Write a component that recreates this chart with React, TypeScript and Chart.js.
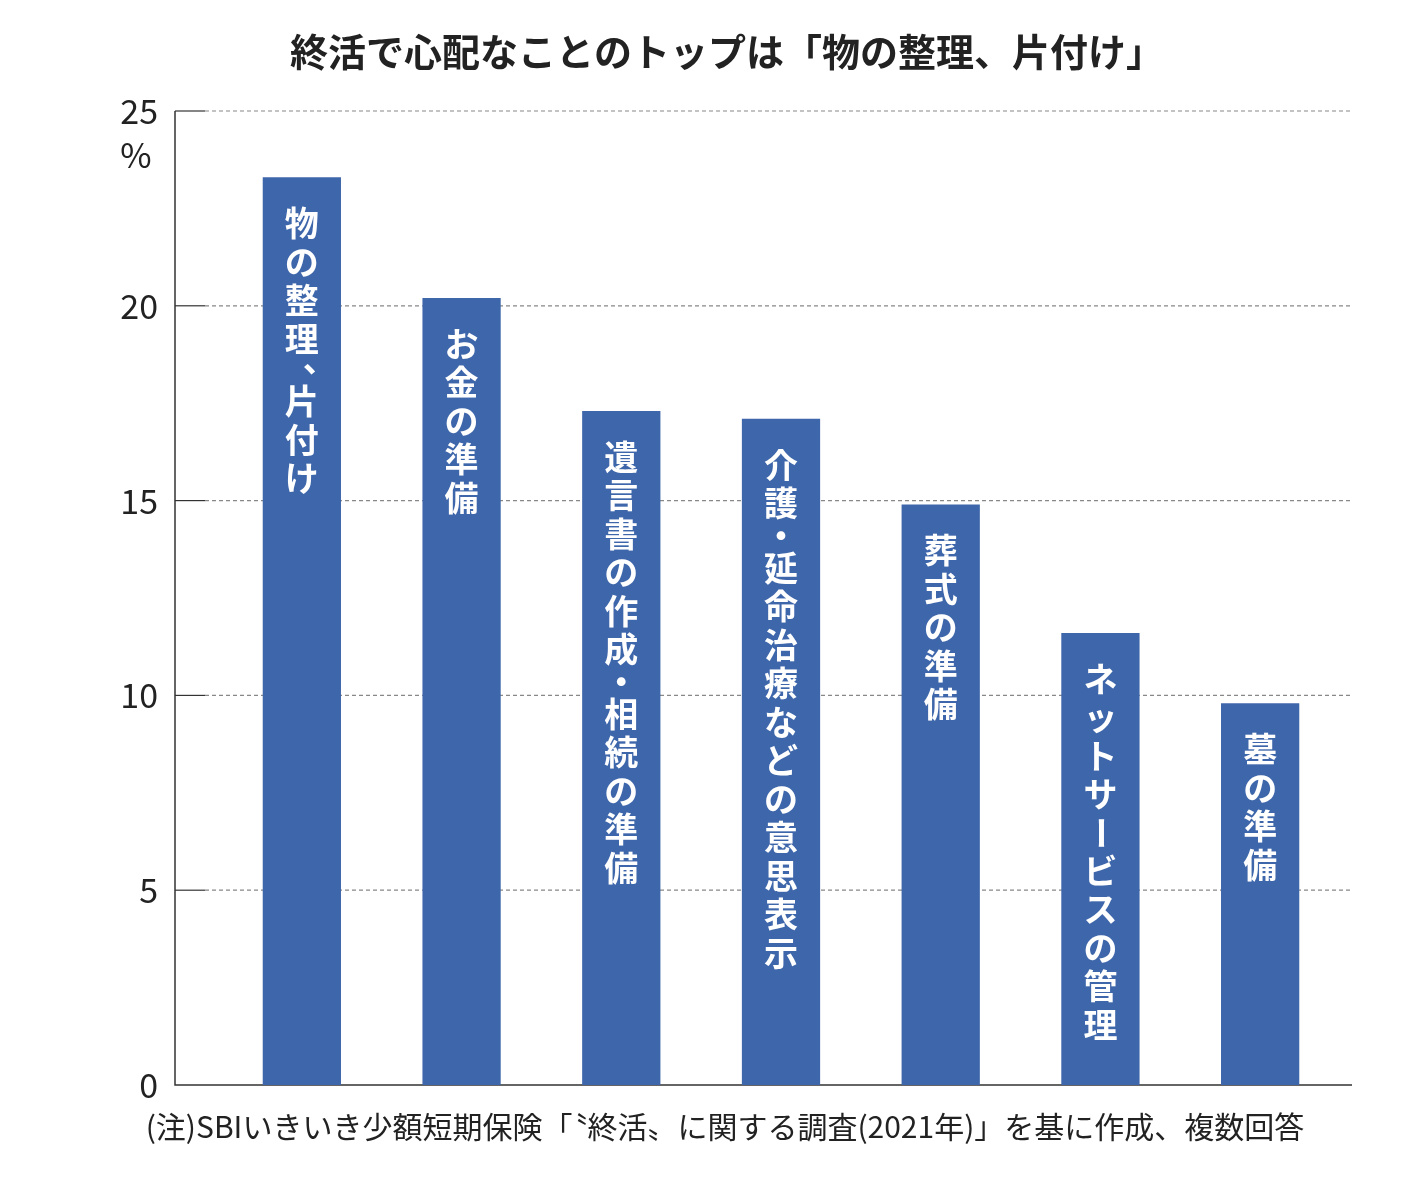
import React, { useEffect, useRef } from "react";
import { Chart, registerables } from "chart.js";
Chart.register(...registerables);

const categories = ["物の整理、片付け", "お金の準備", "遺言書の作成・相続の準備", "介護・延命治療などの意思表示", "葬式の準備", "ネットサービスの管理", "墓の準備"];
const values = [23.3, 20.2, 17.3, 17.1, 14.9, 11.6, 9.8];
const yTicks = [0, 5, 10, 15, 20, 25];
const title = "終活で心配なことのトップは「物の整理、片付け」";
const note = "(注)SBIいきいき少額短期保険「〝終活〟に関する調査(2021年)」を基に作成、複数回答";
const FONT = '"Noto Sans CJK JP", "Noto Sans", sans-serif';

const deco = {
  id: "deco",
  beforeDatasetsDraw(chart: any) {
    const c = chart.ctx;
    const y = chart.scales.y;
    c.save();
    c.fillStyle = "#222";
    c.font = `bold 38px ${FONT}`;
    c.textAlign = "center";
    c.textBaseline = "middle";
    c.fillText(title, 727, 52);
    c.font = `30px ${FONT}`;
    c.fillText(note, 725, 1127);
    for (const t of yTicks) {
      const py = y.getPixelForValue(t);
      if (t > 0) {
        c.strokeStyle = "#888";
        c.lineWidth = 1.2;
        c.setLineDash([4, 3]);
        c.beginPath(); c.moveTo(205, py); c.lineTo(1352, py); c.stroke();
        c.setLineDash([]);
        c.strokeStyle = "#333";
        c.beginPath(); c.moveTo(175, py); c.lineTo(205, py); c.stroke();
      }
      c.fillStyle = "#222";
      c.font = `34px ${FONT}`;
      c.textAlign = "right";
      c.fillText(String(t), 158, py);
    }
    c.textAlign = "center";
    c.fillText("%", 136, 155);
    c.strokeStyle = "#333";
    c.lineWidth = 1.5;
    c.beginPath();
    c.moveTo(175, y.getPixelForValue(25)); c.lineTo(175, y.getPixelForValue(0)); c.lineTo(1352, y.getPixelForValue(0));
    c.stroke();
    c.restore();
  },
  afterDatasetsDraw(chart: any) {
    const c = chart.ctx;
    const meta = chart.getDatasetMeta(0);
    c.save();
    c.fillStyle = "#fff";
    c.font = `bold 34px ${FONT}`;
    c.textAlign = "center";
    c.textBaseline = "middle";
    meta.data.forEach((bar: any, i: number) => {
      let py = bar.y + 46;
      for (const ch of categories[i]) {
        if (ch === "ー") {
          c.save(); c.translate(bar.x, py); c.rotate(Math.PI / 2); c.fillText(ch, 0, 0); c.restore();
          py += 38;
        } else if (ch === "、") {
          c.fillText(ch, bar.x + 18, py - 18);
          py += 24;
        } else if (ch === "・") {
          c.fillText(ch, bar.x, py - 6);
          py += 26;
        } else {
          c.fillText(ch, bar.x, py);
          py += 38.5;
        }
      }
    });
    c.restore();
  },
};

export default function App() {
  const ref = useRef<HTMLCanvasElement>(null);
  useEffect(() => {
    const chart = new Chart(ref.current!, {
      type: "bar",
      data: { labels: categories, datasets: [{ data: values, backgroundColor: "#3e66aa", categoryPercentage: 1, barPercentage: 0.49 }] },
      options: {
        responsive: false,
        animation: false,
        layout: { padding: { left: 222, right: 62, top: 111, bottom: 95 } },
        plugins: { legend: { display: false }, tooltip: { enabled: false } },
        scales: {
          x: { display: false },
          y: { display: false, min: 0, max: 25 },
        },
      },
      plugins: [deco],
    });
    return () => chart.destroy();
  }, []);
  return (
    <div style={{ position: "absolute", left: 0, top: 0, width: 1402, height: 1180, background: "#fff" }}>
      <canvas ref={ref} width={1402} height={1180} />
    </div>
  );
}
